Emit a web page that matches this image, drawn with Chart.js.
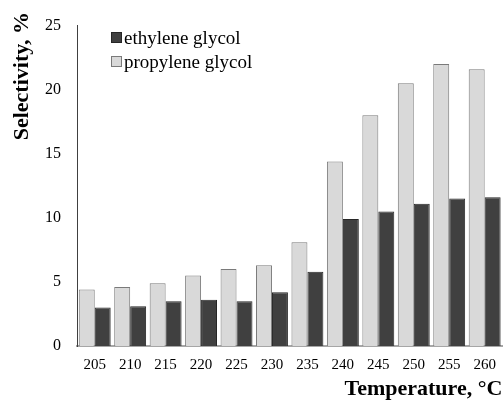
<!DOCTYPE html>
<html>
<head>
<meta charset="utf-8">
<script src="https://cdn.jsdelivr.net/npm/chart.js@4.4.1/dist/chart.umd.min.js"></script>
<style>
  html, body { margin: 0; padding: 0; background: #fff; overflow: hidden; }
  #wrap { width: 506px; height: 400px; position: relative; }
</style>
</head>
<body>
<div id="wrap"><canvas id="chart"></canvas></div>
<script>
// Temperature categories (°C)
const temperatures = ['205', '210', '215', '220', '225', '230', '235', '240', '245', '250', '255', '260'];
// Selectivity, %
const ethyleneGlycol = [3.0, 3.1, 3.5, 3.6, 3.5, 4.2, 5.8, 9.9, 10.5, 11.1, 11.5, 11.6];
const propyleneGlycol = [4.4, 4.6, 4.9, 5.5, 6.0, 6.3, 8.1, 14.4, 18.0, 20.5, 22.0, 21.6];
const yTicks = [0, 5, 10, 15, 20, 25];

const serif = "'Liberation Serif', 'Times New Roman', serif";

// Legend drawn inside the plot, stacked vertically, plus the y-axis title
const insideLegend = {
    id: 'insideLegend',
    afterDraw(chart) {
        const ctx = chart.ctx;
        const items = [chart.data.datasets[1], chart.data.datasets[0]];
        ctx.save();
        ctx.font = '19px ' + serif;
        ctx.textBaseline = 'middle';
        items.forEach((ds, i) => {
            const y = 38 + i * 24;
            ctx.fillStyle = ds.backgroundColor;
            ctx.strokeStyle = ds.borderColor;
            ctx.lineWidth = 1;
            ctx.fillRect(111.5, y - 5.5, 10, 10);
            ctx.strokeRect(111.5, y - 5.5, 10, 10);
            ctx.fillStyle = '#000';
            ctx.fillText(ds.label, 124, y + 1);
        });

        // y-axis title, top-aligned like the original
        ctx.translate(22, 12);
        ctx.rotate(-Math.PI / 2);
        ctx.font = 'bold 22px ' + serif;
        ctx.textAlign = 'right';
        ctx.textBaseline = 'middle';
        ctx.fillText('Selectivity, %', 0, 0);
        ctx.restore();
    }
};

new Chart(document.getElementById('chart'), {
    type: 'bar',
    data: {
        labels: temperatures,
        datasets: [
            {
                label: 'propylene glycol',
                data: propyleneGlycol,
                backgroundColor: '#d9d9d9',
                borderColor: '#7a7a7a',
                borderWidth: 1
            },
            {
                label: 'ethylene glycol',
                data: ethyleneGlycol,
                backgroundColor: '#404040',
                borderColor: '#262626',
                borderWidth: 1
            }
        ]
    },
    options: {
        responsive: true,
        maintainAspectRatio: false,
        animation: false,
        layout: { padding: { top: 13, left: 0, right: 2, bottom: 0 } },
        datasets: { bar: { barPercentage: 1.0, categoryPercentage: 0.9 } },
        plugins: {
            legend: { display: false },
            tooltip: { enabled: false }
        },
        scales: {
            x: {
                grid: { display: false, drawTicks: false },
                border: { color: '#a6a6a6', width: 2 },
                ticks: {
                    color: '#000',
                    padding: 10,
                    maxRotation: 0,
                    font: { family: serif, size: 15 }
                },
                title: {
                    display: true,
                    text: 'Temperature, °C',
                    align: 'end',
                    color: '#000',
                    padding: { top: 0, bottom: 0 },
                    font: { family: serif, size: 22, weight: 'bold', lineHeight: 1 }
                },
                afterFit: scale => { scale.height = 54; }
            },
            y: {
                min: 0,
                max: 25,
                grid: { display: false, drawTicks: false },
                border: { color: '#404040', width: 1 },
                afterBuildTicks: scale => {
                    scale.ticks = yTicks.map(v => ({ value: v }));
                },
                ticks: {
                    color: '#000',
                    padding: 16,
                    font: { family: serif, size: 16 }
                },
                title: { display: false },
                afterFit: scale => { scale.width = 77; }
            }
        }
    },
    plugins: [insideLegend]
});
</script>
</body>
</html>
